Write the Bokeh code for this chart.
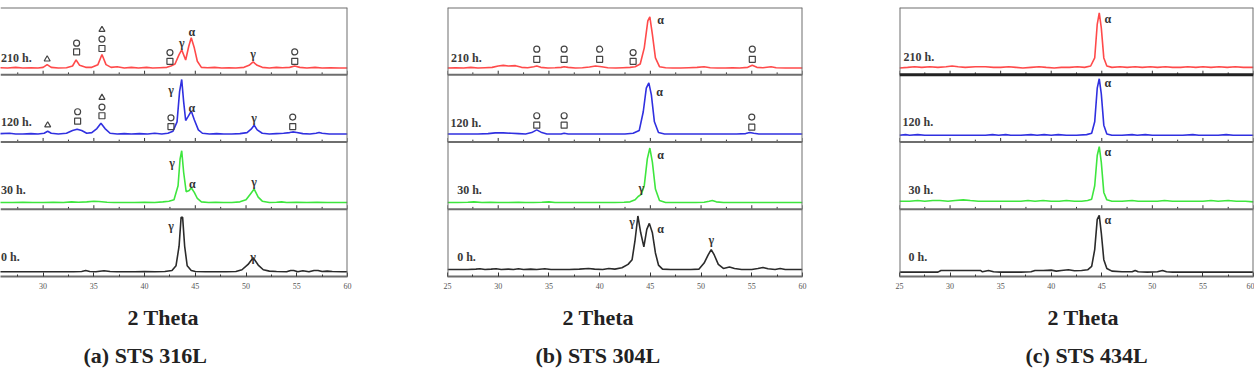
from bokeh.plotting import figure
from bokeh.layouts import row
from bokeh.models import Span, Title, FixedTicker, ColumnDataSource
from bokeh.core.properties import value
from bokeh.embed import file_html
from bokeh.resources import INLINE

# ---------------- data ----------------
TIMES = ["0 h.", "30 h.", "120 h.", "210 h."]          # bottom -> top band
COLORS = ["#2b2b2b", "#3ee63e", "#3030e0", "#ff4a4a"]
TICKS = [25, 30, 35, 40, 45, 50, 55, 60]
MINOR = [27.5, 32.5, 37.5, 42.5, 47.5, 52.5, 57.5]
TITLES = ["(a) STS 316L", "(b) STS 304L", "(c) STS  434L"]
XLABEL = "2 Theta"

# (a) STS 316L  -- (2theta, relative intensity inside its band)
a_0h = [(25,0.07),(26,0.07),(27,0.07),(28,0.07),(29,0.07),(30,0.07),(31,0.07),(32,0.07),(33,0.07),(33.8,0.075),(34.2,0.09),(34.6,0.075),(35.2,0.07),(36,0.085),(36.6,0.075),(37.3,0.07),(38,0.07),(39,0.07),(40,0.075),(41,0.07),(42,0.075),(42.7,0.09),(43.1,0.16),(43.4,0.45),(43.6,0.88),(43.75,0.88),(43.95,0.45),(44.2,0.16),(44.6,0.09),(45,0.075),(46,0.07),(47,0.07),(48,0.07),(49,0.075),(49.6,0.10),(50.2,0.18),(50.7,0.28),(51.2,0.17),(51.7,0.10),(52.3,0.08),(53,0.075),(54,0.07),(54.4,0.09),(54.7,0.09),(55.1,0.07),(55.6,0.085),(56.2,0.07),(56.7,0.09),(57.1,0.09),(57.5,0.075),(58,0.08),(58.5,0.075),(59.5,0.07),(60,0.07)]
a_30h = [(25,0.10),(26,0.10),(27,0.10),(28,0.105),(29,0.10),(30,0.10),(31,0.105),(32,0.10),(32.8,0.11),(33.5,0.105),(34.3,0.11),(35.0,0.12),(35.5,0.115),(36.3,0.105),(37,0.10),(38,0.10),(39,0.10),(40,0.105),(41,0.10),(41.8,0.11),(42.4,0.12),(42.9,0.14),(43.3,0.35),(43.5,0.75),(43.66,0.87),(43.85,0.55),(44.1,0.26),(44.4,0.28),(44.6,0.32),(44.9,0.25),(45.2,0.16),(45.6,0.11),(46.3,0.10),(47,0.105),(47.8,0.10),(48.6,0.10),(49.4,0.11),(50.0,0.14),(50.4,0.22),(50.8,0.30),(51.2,0.18),(51.6,0.12),(52.3,0.10),(53,0.105),(53.5,0.11),(54,0.10),(55,0.105),(56,0.10),(57,0.105),(58,0.10),(59,0.10),(60,0.10)]
a_120h = [(25,0.12),(25.8,0.125),(26.7,0.13),(27.3,0.12),(28,0.12),(28.8,0.125),(29.5,0.12),(30.1,0.13),(30.45,0.16),(30.8,0.13),(31.5,0.12),(32.3,0.13),(32.9,0.17),(33.35,0.19),(33.8,0.17),(34.3,0.13),(34.8,0.14),(35.3,0.20),(35.7,0.28),(36.1,0.20),(36.6,0.13),(37.3,0.12),(38.0,0.125),(38.7,0.12),(39.5,0.125),(40.3,0.12),(41.0,0.13),(41.7,0.12),(42.3,0.13),(42.8,0.16),(43.2,0.30),(43.45,0.75),(43.66,0.93),(43.85,0.60),(44.05,0.32),(44.3,0.38),(44.6,0.46),(44.9,0.33),(45.3,0.18),(45.7,0.13),(46.4,0.12),(47.1,0.125),(47.8,0.12),(48.6,0.12),(49.4,0.125),(50.1,0.14),(50.5,0.19),(50.8,0.25),(51.1,0.18),(51.6,0.13),(52.3,0.12),(53.0,0.125),(53.7,0.13),(54.3,0.14),(54.6,0.15),(55.0,0.14),(55.6,0.125),(56.3,0.12),(56.9,0.13),(57.2,0.14),(57.5,0.13),(58.2,0.12),(59.0,0.12),(60,0.12)]
a_210h = [(25.0,0.10),(25.8,0.105),(26.5,0.10),(27.3,0.11),(28.0,0.10),(28.8,0.105),(29.5,0.10),(30.0,0.11),(30.4,0.15),(30.8,0.11),(31.5,0.10),(32.3,0.105),(32.9,0.13),(33.25,0.22),(33.6,0.14),(34.2,0.11),(34.8,0.11),(35.4,0.15),(35.8,0.30),(36.2,0.15),(36.7,0.11),(37.3,0.12),(38.0,0.10),(38.7,0.11),(39.4,0.10),(40.2,0.11),(40.8,0.10),(41.5,0.105),(42.2,0.11),(42.6,0.13),(43.0,0.16),(43.4,0.30),(43.66,0.37),(44.05,0.22),(44.35,0.42),(44.6,0.55),(44.9,0.40),(45.2,0.20),(45.6,0.11),(46.2,0.105),(46.9,0.11),(47.6,0.10),(48.3,0.105),(49.0,0.10),(49.8,0.11),(50.3,0.14),(50.7,0.19),(51.1,0.14),(51.6,0.11),(52.3,0.10),(53.0,0.11),(53.6,0.105),(54.3,0.11),(54.8,0.13),(55.3,0.11),(56.0,0.10),(56.8,0.11),(57.5,0.10),(58.3,0.105),(59.2,0.10),(60.0,0.10)]

# (b) STS 304L
b_0h = [(25,0.105),(26,0.105),(27,0.105),(27.8,0.11),(28.2,0.115),(28.7,0.105),(29.3,0.11),(29.8,0.115),(30.3,0.105),(31.0,0.11),(31.5,0.105),(32.0,0.115),(32.5,0.105),(33.2,0.11),(33.8,0.105),(34.6,0.115),(35.2,0.105),(36.0,0.105),(37.0,0.105),(38.0,0.11),(38.9,0.12),(39.5,0.11),(40.3,0.105),(40.9,0.12),(41.5,0.11),(42.2,0.13),(42.8,0.18),(43.2,0.25),(43.5,0.55),(43.77,0.90),(44.05,0.65),(44.36,0.44),(44.65,0.70),(44.9,0.79),(45.2,0.65),(45.5,0.35),(45.8,0.17),(46.2,0.11),(47,0.105),(48,0.105),(49,0.105),(49.8,0.11),(50.3,0.20),(50.7,0.32),(51.0,0.40),(51.3,0.32),(51.7,0.18),(52.2,0.12),(52.8,0.14),(53.3,0.12),(54,0.105),(55,0.105),(55.6,0.12),(56.1,0.135),(56.6,0.115),(57.3,0.105),(57.8,0.12),(58.3,0.105),(59,0.105),(60,0.105)]
b_30h = [(25,0.10),(26,0.10),(27,0.105),(27.6,0.11),(28.4,0.10),(29.2,0.105),(30.0,0.10),(31.0,0.10),(32.0,0.105),(32.7,0.10),(33.5,0.10),(34.3,0.105),(35.0,0.11),(35.6,0.10),(36.5,0.10),(37.5,0.10),(38.5,0.10),(39.5,0.10),(40.5,0.10),(41.5,0.10),(42.4,0.105),(43.0,0.11),(43.5,0.14),(43.8,0.19),(44.1,0.22),(44.4,0.35),(44.7,0.75),(44.95,0.91),(45.2,0.70),(45.5,0.30),(45.9,0.13),(46.5,0.10),(47.5,0.10),(48.5,0.10),(49.5,0.10),(50.3,0.105),(50.8,0.12),(51.1,0.13),(51.5,0.11),(52.2,0.10),(53,0.10),(54,0.10),(55,0.10),(56,0.10),(57,0.10),(58,0.10),(59,0.10),(60,0.10)]
b_120h = [(25,0.12),(26,0.12),(27,0.12),(28,0.12),(29,0.125),(29.7,0.135),(30.5,0.135),(31.3,0.13),(32.0,0.125),(32.7,0.12),(33.3,0.14),(33.8,0.18),(34.3,0.14),(34.8,0.12),(35.5,0.12),(36.2,0.12),(36.5,0.13),(36.9,0.12),(37.6,0.12),(38.5,0.12),(39.5,0.12),(40.5,0.12),(41.5,0.12),(42.5,0.12),(43.3,0.13),(43.9,0.17),(44.3,0.45),(44.6,0.80),(44.85,0.88),(45.1,0.70),(45.4,0.30),(45.8,0.14),(46.4,0.12),(47.5,0.12),(48.5,0.12),(49.5,0.12),(50.5,0.12),(51.5,0.12),(52.5,0.12),(53.5,0.12),(54.4,0.125),(54.8,0.14),(55.2,0.13),(55.7,0.12),(56.5,0.12),(57.5,0.12),(58.5,0.12),(59.5,0.12),(60,0.12)]
b_210h = [(25,0.10),(25.8,0.105),(26.6,0.10),(27.3,0.11),(28.0,0.10),(28.7,0.105),(29.4,0.11),(30.0,0.13),(30.5,0.14),(31.0,0.13),(31.7,0.135),(32.3,0.11),(32.9,0.105),(33.5,0.12),(33.8,0.13),(34.2,0.11),(34.9,0.10),(35.6,0.105),(36.2,0.11),(36.5,0.12),(36.9,0.11),(37.6,0.10),(38.3,0.105),(39.0,0.115),(39.6,0.13),(40.2,0.12),(40.8,0.105),(41.6,0.10),(42.3,0.105),(43.0,0.11),(43.5,0.12),(44.0,0.16),(44.4,0.40),(44.75,0.80),(44.95,0.86),(45.2,0.60),(45.5,0.25),(45.9,0.12),(46.5,0.105),(47.2,0.10),(48.0,0.10),(48.8,0.105),(49.6,0.11),(50.3,0.12),(50.9,0.105),(51.6,0.10),(52.4,0.10),(53.1,0.105),(53.8,0.10),(54.6,0.11),(55.05,0.14),(55.5,0.11),(56.1,0.105),(56.9,0.12),(57.4,0.105),(58.3,0.10),(59.2,0.10),(60,0.10)]

# (c) STS 434L
c_0h = [(25,0.065),(26,0.065),(27,0.065),(28,0.065),(28.8,0.065),(29.1,0.09),(30,0.09),(31,0.09),(32,0.09),(33,0.09),(33.2,0.07),(33.8,0.09),(34.3,0.07),(35,0.065),(36,0.065),(37,0.065),(38,0.07),(38.4,0.09),(39.2,0.09),(40,0.095),(40.5,0.08),(41,0.09),(41.7,0.10),(42.3,0.085),(43,0.09),(43.6,0.10),(44.0,0.15),(44.3,0.40),(44.55,0.85),(44.75,0.91),(44.95,0.65),(45.2,0.25),(45.5,0.12),(46,0.08),(47,0.07),(48,0.07),(48.3,0.09),(48.6,0.07),(49.5,0.065),(50.5,0.07),(51,0.09),(51.4,0.07),(52,0.065),(53,0.065),(54,0.065),(55,0.065),(56,0.065),(57,0.065),(58,0.065),(59,0.065),(60,0.065)]
c_30h = [(25,0.12),(26,0.12),(26.8,0.13),(27.5,0.12),(28.3,0.13),(29,0.13),(29.8,0.12),(30.5,0.13),(31.3,0.14),(32,0.13),(32.8,0.12),(33.5,0.12),(34.3,0.12),(35,0.12),(36,0.12),(37,0.12),(37.7,0.13),(38.4,0.12),(39.2,0.13),(40,0.12),(40.8,0.12),(41.5,0.13),(42.3,0.12),(43,0.12),(43.6,0.13),(44.0,0.15),(44.3,0.35),(44.55,0.80),(44.75,0.93),(44.95,0.70),(45.2,0.25),(45.5,0.14),(46,0.12),(47,0.12),(48,0.13),(48.6,0.12),(49.5,0.12),(50.5,0.12),(51.2,0.13),(52,0.12),(53,0.12),(54,0.12),(55,0.12),(55.8,0.13),(56.5,0.12),(57.5,0.13),(58.3,0.12),(59.2,0.12),(60,0.11)]
c_120h = [(25,0.10),(25.6,0.11),(26,0.10),(26.8,0.11),(27.5,0.10),(28.5,0.10),(29.5,0.10),(30.5,0.10),(31.5,0.10),(32.5,0.10),(33.5,0.10),(34.2,0.11),(34.8,0.10),(35.5,0.11),(36,0.10),(37,0.10),(38,0.11),(38.6,0.10),(39.3,0.11),(40,0.10),(40.7,0.11),(41.5,0.10),(42.5,0.10),(43.5,0.11),(44.0,0.13),(44.3,0.30),(44.55,0.80),(44.75,0.94),(44.95,0.72),(45.2,0.25),(45.5,0.12),(46,0.10),(47,0.10),(48,0.11),(48.5,0.10),(49.3,0.11),(50,0.10),(51,0.10),(52,0.10),(53,0.10),(54,0.11),(54.6,0.10),(55.5,0.10),(56.5,0.10),(57.3,0.11),(58,0.10),(59,0.10),(60,0.10)]
c_210h = [(25,0.10),(25.8,0.11),(26.5,0.12),(27.2,0.11),(28,0.12),(28.8,0.11),(29.6,0.12),(30.2,0.13),(30.8,0.12),(31.5,0.11),(32.5,0.12),(33.5,0.12),(34.3,0.11),(35,0.11),(35.8,0.12),(36.5,0.11),(37.2,0.10),(38,0.11),(38.8,0.12),(39.5,0.11),(40.3,0.10),(41,0.11),(41.8,0.11),(42.6,0.12),(43.3,0.11),(43.9,0.13),(44.3,0.25),(44.55,0.75),(44.75,0.92),(44.95,0.70),(45.2,0.25),(45.5,0.13),(46,0.11),(46.8,0.12),(47.5,0.11),(48.3,0.12),(49,0.11),(49.8,0.12),(50.5,0.11),(51.3,0.12),(52,0.11),(52.8,0.11),(53.5,0.12),(54.3,0.11),(55,0.12),(55.8,0.11),(56.6,0.12),(57.4,0.11),(58.2,0.12),(59,0.11),(60,0.11)]

# peak phase letters: (band, 2theta, height, text)
a_peaks = [(3,43.66,0.47,"γ"),(3,44.65,0.63,"α"),(3,50.7,0.31,"γ"),
           (2,42.6,0.78,"γ"),(2,44.65,0.51,"α"),(2,50.8,0.36,"γ"),
           (1,42.7,0.69,"γ"),(1,44.7,0.38,"α"),(1,50.8,0.40,"γ"),
           (0,42.6,0.75,"γ"),(0,50.7,0.29,"γ")]
b_peaks = [(3,46.0,0.82,"α"),(2,45.9,0.75,"α"),(1,44.1,0.32,"γ"),(1,46.0,0.81,"α"),
           (0,43.2,0.81,"γ"),(0,46.0,0.71,"α"),(0,51.0,0.55,"γ")]
c_peaks = [(3,45.6,0.83,"α"),(2,45.6,0.87,"α"),(1,45.6,0.85,"α"),(0,45.6,0.84,"α")]

# phase symbols: (band, 2theta, height, marker)
a_marks = [(3,30.4,0.23,"triangle"),(3,33.3,0.34,"square"),(3,33.3,0.47,"circle"),
           (3,35.8,0.39,"square"),(3,35.8,0.53,"circle"),(3,35.8,0.67,"triangle"),
           (3,42.5,0.20,"square"),(3,42.5,0.33,"circle"),(3,54.8,0.20,"square"),(3,54.8,0.34,"circle"),
           (2,30.45,0.25,"triangle"),(2,33.4,0.31,"square"),(2,33.4,0.45,"circle"),
           (2,35.8,0.39,"square"),(2,35.8,0.52,"circle"),(2,35.8,0.66,"triangle"),
           (2,42.6,0.23,"square"),(2,42.6,0.36,"circle"),(2,54.6,0.23,"square"),(2,54.6,0.37,"circle")]
b_marks = [(3,33.8,0.23,"square"),(3,33.8,0.38,"circle"),(3,36.5,0.23,"square"),(3,36.5,0.38,"circle"),
           (3,40.0,0.23,"square"),(3,40.0,0.38,"circle"),(3,43.3,0.20,"square"),(3,43.3,0.33,"circle"),
           (3,55.05,0.23,"square"),(3,55.05,0.38,"circle"),
           (2,33.8,0.25,"square"),(2,33.8,0.39,"circle"),(2,36.5,0.25,"square"),(2,36.5,0.39,"circle"),
           (2,55.0,0.22,"square"),(2,55.0,0.37,"circle")]
c_marks = []

# sample-time label anchors per band: (2theta, height)
a_names = [(25.85,0.29),(25.85,0.28),(25.85,0.29),(25.85,0.25)]
b_names = [(25.95,0.29),(25.95,0.28),(25.3,0.28),(25.35,0.25)]
c_names = [(25.9,0.29),(25.9,0.29),(25.3,0.30),(25.4,0.27)]

# ---------------- drawing ----------------
SERIF = "Liberation Serif"
BORDER = "#6e6e6e"


def panel(traces, peaks, marks, names, title, xstart, width, left, right,
          label_off, title_off, thick_top=False):
    p = figure(width=width, height=384, x_range=(xstart, 60), y_range=(0, 4),
               output_backend="svg", toolbar_location=None, y_axis_location=None,
               min_border_left=left, min_border_right=right, min_border_top=7,
               min_border_bottom=108, outline_line_color=None)
    p.xgrid.visible = False
    p.ygrid.visible = False
    ax = p.xaxis[0]
    ax.ticker = FixedTicker(ticks=TICKS, minor_ticks=MINOR)
    ax.major_tick_in = 4
    ax.major_tick_out = 0
    ax.minor_tick_in = 2
    ax.minor_tick_out = 0
    ax.axis_line_color = BORDER
    ax.axis_line_width = 2
    ax.major_tick_line_color = "#333333"
    ax.minor_tick_line_color = "#333333"
    ax.major_label_text_font = SERIF
    ax.major_label_text_font_size = "8px"
    ax.major_label_text_color = "#555555"
    ax.major_label_standoff = 6

    # borders and band separators
    if xstart <= 25:
        p.add_layout(Span(location=25, dimension="height", line_color=BORDER, line_width=2))
    p.add_layout(Span(location=60, dimension="height", line_color=BORDER, line_width=2))
    p.add_layout(Span(location=4, dimension="width", line_color=BORDER, line_width=2))
    for b in (1, 2, 3):
        if thick_top and b == 3:
            p.add_layout(Span(location=b, dimension="width", line_color="#222222", line_width=3))
        else:
            p.add_layout(Span(location=b, dimension="width", line_color=BORDER, line_width=2))
    # ticks on separators
    sx, sy0, sy1 = [], [], []
    for b in (1, 2, 3):
        for t in TICKS:
            sx.append(t); sy0.append(b); sy1.append(b + 0.06)
        for t in MINOR:
            sx.append(t); sy0.append(b); sy1.append(b + 0.035)
    p.segment(x0=sx, y0=sy0, x1=sx, y1=sy1, line_color="#333333", line_width=1)

    # traces
    for band, (tr, col) in enumerate(zip(traces, COLORS)):
        xs = [pt[0] for pt in tr]
        ys = [band + pt[1] for pt in tr]
        p.line(xs, ys, line_color=col, line_width=1.6)

    # phase letters
    if peaks:
        src = ColumnDataSource(dict(x=[q[1] for q in peaks], y=[q[0] + q[2] for q in peaks],
                                    t=[q[3] for q in peaks]))
        p.text(x="x", y="y", text="t", source=src, text_font=value(SERIF), text_font_style="bold",
               text_font_size="12px", text_color="#333333", text_align="center", text_baseline="middle")
    for m in ("square", "circle", "triangle"):
        sel = [q for q in marks if q[3] == m]
        if sel:
            p.scatter([q[1] for q in sel], [q[0] + q[2] for q in sel], marker=m, size=6,
                      fill_color=None, line_color="#444444", line_width=1.2)

    # sample labels
    src = ColumnDataSource(dict(x=[n[0] for n in names], y=[i + n[1] for i, n in enumerate(names)], t=TIMES))
    p.text(x="x", y="y", text="t", source=src, text_font=value(SERIF), text_font_style="bold",
           text_font_size="12px", text_color="#3a3a3a", text_align="left", text_baseline="middle")

    p.add_layout(Title(text=XLABEL, align="left", offset=label_off, text_font=SERIF,
                       text_font_style="bold", text_font_size="22px", text_color="#222222",
                       standoff=22), "below")
    p.add_layout(Title(text=title, align="left", offset=title_off, text_font=SERIF,
                       text_font_style="bold", text_font_size="22px", text_color="#222222",
                       standoff=0), "below")
    return p


pa = panel([a_0h, a_30h, a_120h, a_210h], a_peaks, a_marks, a_names, TITLES[0],
           25.8, 400, 0, 53, 127, 83)
pb = panel([b_0h, b_30h, b_120h, b_210h], b_peaks, b_marks, b_names, TITLES[1],
           25, 450, 47, 48, 115, 88)
pc = panel([c_0h, c_30h, c_120h, c_210h], c_peaks, c_marks, c_names, TITLES[2],
           25, 404, 49, 1, 148, 126, thick_top=True)

layout = row(pa, pb, pc, spacing=0)
open("out.html", "w").write(file_html(layout, INLINE))
